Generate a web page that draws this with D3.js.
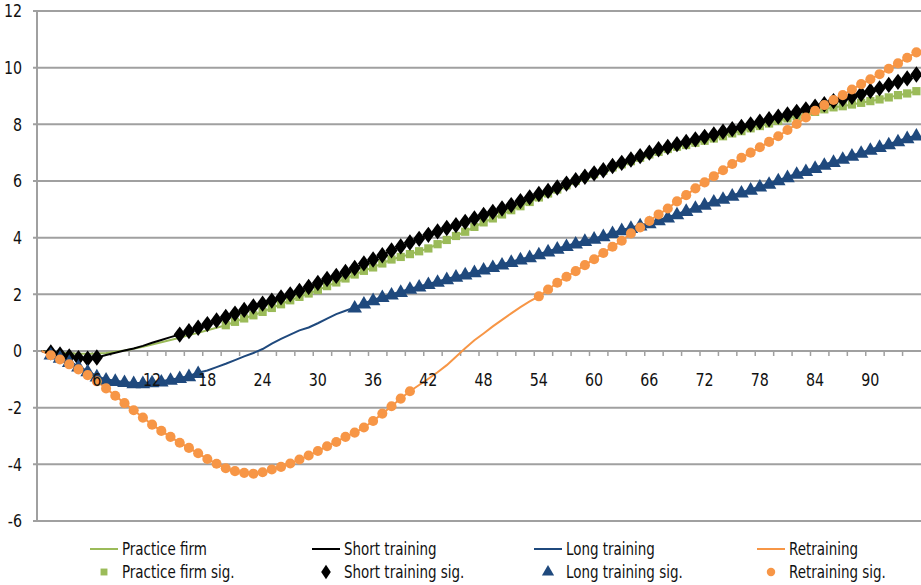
<!DOCTYPE html>
<html>
<head>
<meta charset="utf-8">
<script src="https://cdn.jsdelivr.net/npm/d3@7"></script>
<style>
  html, body { margin: 0; padding: 0; background: #fff; }
  svg { display: block; }
  text { font-family: "Liberation Sans Narrow", "Arial Narrow", "DejaVu Sans Condensed", sans-serif; fill: #111; }
</style>
</head>
<body>
<svg id="chart" width="921" height="585"></svg>
<script>
// ---------- DATA ----------
const months = [0,1,2,3,4,5,6,7,8,9,10,11,12,13,14,15,16,17,18,19,20,21,22,23,24,25,26,27,28,29,30,31,32,33,34,35,36,37,38,39,40,41,42,43,44,45,46,47,48,49,50,51,52,53,54,55,56,57,58,59,60,61,62,63,64,65,66,67,68,69,70,71,72,73,74,75,76,77,78,79,80,81,82,83,84,85,86,87,88,89,90,91,92,93,94,95];
const xTickLabels = [6,12,18,24,30,36,42,48,54,60,66,72,78,84,90];
const yTicks = [-6,-4,-2,0,2,4,6,8,10,12];

const practiceFirm = [0,-0.03,-0.06,-0.08,-0.1,-0.1,-0.09,-0.07,-0.03,0.02,0.08,0.15,0.23,0.31,0.39,0.47,0.56,0.64,0.73,0.82,0.91,1.03,1.15,1.26,1.38,1.52,1.65,1.79,1.91,2.03,2.15,2.29,2.42,2.56,2.7,2.83,2.95,3.09,3.23,3.32,3.42,3.52,3.62,3.77,3.92,4.06,4.21,4.38,4.54,4.68,4.82,4.97,5.11,5.26,5.42,5.56,5.7,5.85,6.0,6.13,6.24,6.36,6.48,6.59,6.7,6.82,6.94,7.03,7.13,7.21,7.27,7.35,7.42,7.5,7.58,7.68,7.76,7.86,7.94,8.03,8.12,8.21,8.29,8.36,8.44,8.53,8.6,8.64,8.7,8.76,8.82,8.88,8.95,9.03,9.09,9.17];
const shortTraining = [0,-0.05,-0.12,-0.19,-0.25,-0.27,-0.23,-0.14,-0.06,0.02,0.09,0.18,0.29,0.39,0.49,0.58,0.7,0.82,0.95,1.08,1.2,1.32,1.45,1.57,1.67,1.78,1.89,2.0,2.12,2.26,2.4,2.54,2.65,2.79,2.93,3.09,3.23,3.38,3.55,3.69,3.83,3.96,4.1,4.22,4.34,4.44,4.56,4.68,4.8,4.91,5.03,5.15,5.29,5.42,5.54,5.65,5.77,5.91,6.03,6.15,6.27,6.38,6.53,6.64,6.76,6.88,7.0,7.12,7.2,7.3,7.38,7.47,7.56,7.64,7.74,7.83,7.91,8.0,8.09,8.18,8.27,8.35,8.44,8.53,8.62,8.71,8.82,8.89,8.97,9.07,9.18,9.27,9.39,9.5,9.62,9.76];
const longTraining = [0,-0.12,-0.23,-0.38,-0.54,-0.71,-0.89,-1.0,-1.05,-1.09,-1.13,-1.13,-1.1,-1.07,-1.01,-0.95,-0.88,-0.77,-0.69,-0.57,-0.45,-0.32,-0.19,-0.07,0.07,0.26,0.43,0.58,0.73,0.83,0.98,1.14,1.3,1.42,1.54,1.68,1.8,1.91,2.0,2.09,2.2,2.28,2.37,2.45,2.54,2.63,2.71,2.79,2.88,2.97,3.06,3.15,3.24,3.32,3.42,3.52,3.62,3.71,3.8,3.89,3.97,4.06,4.17,4.27,4.35,4.44,4.52,4.62,4.72,4.83,4.95,5.06,5.17,5.28,5.38,5.49,5.6,5.7,5.81,5.91,6.03,6.14,6.26,6.36,6.47,6.58,6.68,6.79,6.9,7.0,7.11,7.21,7.3,7.41,7.52,7.61];
const retraining = [0,-0.15,-0.3,-0.47,-0.65,-0.85,-1.07,-1.32,-1.58,-1.84,-2.09,-2.35,-2.6,-2.82,-3.03,-3.24,-3.42,-3.61,-3.81,-3.98,-4.14,-4.24,-4.3,-4.33,-4.28,-4.18,-4.09,-3.97,-3.83,-3.69,-3.53,-3.36,-3.21,-3.03,-2.88,-2.7,-2.47,-2.21,-1.95,-1.68,-1.42,-1.2,-0.98,-0.75,-0.5,-0.2,0.1,0.38,0.62,0.87,1.1,1.33,1.55,1.75,1.93,2.17,2.41,2.62,2.82,3.03,3.24,3.46,3.68,3.89,4.15,4.36,4.59,4.82,5.03,5.28,5.5,5.74,5.95,6.17,6.38,6.6,6.82,7.0,7.19,7.38,7.58,7.8,8.01,8.24,8.48,8.68,8.86,9.03,9.23,9.42,9.59,9.77,9.96,10.15,10.35,10.54];

// significant month ranges (inclusive)
const practiceFirmSig = [[20,95]];
const shortTrainingSig = [[1,6],[15,95]];
const longTrainingSig = [[1,17],[34,95]];
const retrainingSig = [[1,40],[54,95]];

const seriesNames = ["Practice firm","Short training","Long training","Retraining"];
const seriesColors = ["#9bbb59","#000000","#1f497d","#f79646"];
const seriesSymbols = [d3.symbolSquare, d3.symbolDiamond, d3.symbolTriangle, d3.symbolCircle];

// ---------- CHART ----------
const svg = d3.select("#chart");
const plotLeft = 37, plotRight = 921, plotTop = 11, plotBottom = 521;
const squeeze = 0.88; // narrow font look

const x = d3.scaleBand().domain(months).range([plotLeft, plotRight]).padding(0);
const xc = k => x(k) + x.bandwidth() / 2;
const y = d3.scaleLinear().domain([-6, 12]).range([plotBottom, plotTop]);

function addText(sel, tx, ty, anchor, size, str) {
  return sel.append("text")
    .attr("transform", `translate(${tx},${ty}) scale(${squeeze},1)`)
    .attr("dy", "0.35em").attr("text-anchor", anchor)
    .attr("font-size", size).text(str);
}

// gridlines
svg.append("g").selectAll("line").data(yTicks).join("line")
  .attr("x1", plotLeft - 4).attr("x2", plotRight)
  .attr("y1", d => y(d)).attr("y2", d => y(d))
  .attr("stroke", "#a0a0a0").attr("stroke-width", 2);

// y axis line
svg.append("line").attr("x1", plotLeft).attr("x2", plotLeft)
  .attr("y1", plotTop).attr("y2", plotBottom)
  .attr("stroke", "#a0a0a0").attr("stroke-width", 2);

// y labels
const yLab = svg.append("g");
yTicks.forEach(d => addText(yLab, 22, y(d), "end", 18, d));

// x axis at zero
const y0 = y(0);
svg.append("line").attr("x1", plotLeft).attr("x2", plotRight)
  .attr("y1", y0).attr("y2", y0).attr("stroke", "#a0a0a0").attr("stroke-width", 2);
const tickMonths = months.filter(m => m % 2 === 0);
svg.append("g").selectAll("line").data(tickMonths).join("line")
  .attr("x1", d => x(d)).attr("x2", d => x(d))
  .attr("y1", y0).attr("y2", y0 + 5)
  .attr("stroke", "#a0a0a0").attr("stroke-width", 1.5);

// lines
const allSeries = [practiceFirm, shortTraining, longTraining, retraining];
const allSig = [practiceFirmSig, shortTrainingSig, longTrainingSig, retrainingSig];
const line = d3.line().x((d, i) => xc(months[i])).y(d => y(d));
allSeries.forEach((s, i) => {
  svg.append("path").datum(s).attr("d", line)
    .attr("fill", "none").attr("stroke", seriesColors[i]).attr("stroke-width", 2);
});

// markers
const symSizes = [68, 95, 92, 80];
allSeries.forEach((s, i) => {
  const isSig = k => allSig[i].some(r => k >= r[0] && k <= r[1]);
  const pts = months.filter(isSig);
  const sym = d3.symbol().type(seriesSymbols[i]).size(symSizes[i]);
  svg.append("g").selectAll("path").data(pts).join("path")
    .attr("d", sym)
    .attr("transform", k => {
      const dy = i === 2 ? 1 : 0;
      return `translate(${xc(k)},${y(s[k]) + dy})` + (i === 1 ? " scale(1.15,0.9)" : "");
    })
    .attr("fill", seriesColors[i]);
});

// x labels (on top of markers)
const xLab = svg.append("g");
xTickLabels.forEach(d => addText(xLab, xc(d), y0 + 29, "middle", 18, d));

// legend
const legendCols = [90, 312, 534, 757];
const row1 = 549, row2 = 572;
seriesNames.forEach((name, i) => {
  const lx = legendCols[i];
  const g = svg.append("g");
  g.append("line").attr("x1", lx).attr("x2", lx + 28).attr("y1", row1).attr("y2", row1)
    .attr("stroke", seriesColors[i]).attr("stroke-width", 2);
  addText(g, lx + 32, row1, "start", 17, name);
  const sym = d3.symbol().type(seriesSymbols[i]).size(symSizes[i] * 0.7);
  g.append("path").attr("d", sym)
    .attr("transform", `translate(${lx + 14},${row2})` + (i === 1 ? " scale(1.1,0.95)" : ""))
    .attr("fill", seriesColors[i]);
  addText(g, lx + 32, row2, "start", 17, name + " sig.");
});
</script>
</body>
</html>
